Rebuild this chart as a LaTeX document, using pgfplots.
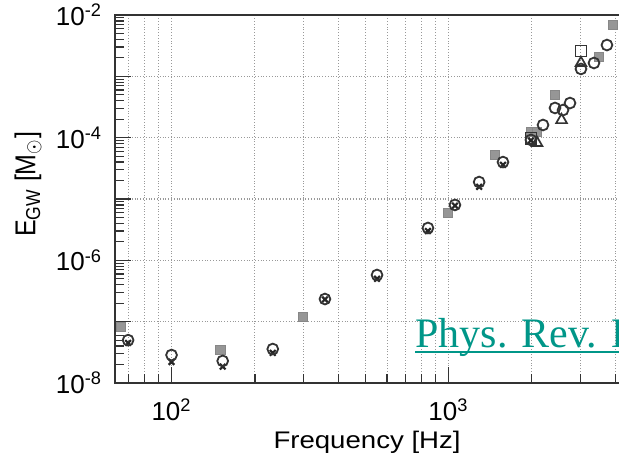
\documentclass[border=0pt]{standalone}
\usepackage{pgfplots}
\pgfplotsset{compat=1.18}
\usepackage{graphicx}
\usepackage{fontspec}
\setmainfont{Liberation Sans}
\newfontfamily\serifprl{Liberation Serif}
\definecolor{prlteal}{RGB}{0,150,136}
\definecolor{sqgray}{RGB}{150,150,150}
\begin{document}
\begin{tikzpicture}
\useasboundingbox (-57.5pt,-38pt) rectangle (252pt,191.5pt);
\clip (-57.5pt,-38pt) rectangle (252pt,191.5pt);
\begin{axis}[
  scale only axis,
  width=257.2pt, height=184pt,
  xmode=log, ymode=log,
  xmin=62.5, xmax=4500,
  ymin=1e-8, ymax=1e-2,
  xtick={100,1000},
  xticklabels={10\textsuperscript{2},10\textsuperscript{3}},
  minor xtick={70,80,90,200,300,400,500,600,700,800,900,2000,3000,4000},
  ytick={1e-8,1e-7,1e-6,1e-5,1e-4,1e-3,1e-2},
  yticklabels={10\textsuperscript{-8},,10\textsuperscript{-6},,10\textsuperscript{-4},,10\textsuperscript{-2}},
  minor ytick={2e-8,3e-8,4e-8,5e-8,6e-8,7e-8,8e-8,9e-8,
               2e-7,3e-7,4e-7,5e-7,6e-7,7e-7,8e-7,9e-7,
               2e-6,3e-6,4e-6,5e-6,6e-6,7e-6,8e-6,9e-6,
               2e-5,3e-5,4e-5,5e-5,6e-5,7e-5,8e-5,9e-5,
               2e-4,3e-4,4e-4,5e-4,6e-4,7e-4,8e-4,9e-4,
               2e-3,3e-3,4e-3,5e-3,6e-3,7e-3,8e-3,9e-3},
  xmajorgrids=true, xminorgrids=true, ymajorgrids=true, yminorgrids=false,
  major grid style={densely dotted, gray!80, line width=0.55pt},
  minor grid style={densely dotted, gray!80, line width=0.55pt},
  tick pos=left, tick align=inside,
  major tick length=8pt, minor tick length=4.5pt,
  tick style={black!80, line width=0.6pt},
  axis line style={black!80, line width=1.2pt},
  ticklabel style={font=\fontsize{13}{15}\selectfont},
  yticklabel style={xshift=-3pt},
  xticklabel style={yshift=-4.5pt},
  xlabel={\scalebox{1.15}[1]{Frequency [Hz]}},
  ylabel={\scalebox{1}[1.15]{E\textsubscript{GW} [M\textsubscript{$\odot$}]}},
  xlabel style={font=\fontsize{12}{14}\selectfont, at={(axis description cs:0.49,-0.16)}, anchor=center},
  ylabel style={font=\fontsize{12.5}{15}\selectfont, at={(axis description cs:-0.169,0.54)}, anchor=center},
  clip marker paths=true,
]
% gray filled squares
\addplot[only marks, mark=square*, mark size=2.3pt, mark options={fill=sqgray, draw=sqgray!90!black, line width=0.4pt}]
 coordinates {(65.5,8.2e-8) (150,3.46e-8) (298,1.19e-7) (996,5.9e-6) (1472,5.2e-5)
   (1985,1.24e-4) (2087,1.24e-4) (2424,4.96e-4) (3494,2.07e-3) (3925,6.87e-3)};
% dark crosses
\addplot[only marks, mark=x, mark size=2pt, mark options={draw=black!85, line width=1.1pt}]
 coordinates {(69.7,4.5e-8) (100,2.2e-8) (153,1.85e-8) (232,3.1e-8) (358,2.3e-7)
   (552,5.0e-7) (843,3.0e-6) (1055,7.8e-6) (1290,1.58e-5) (1573,3.6e-5) (1985,9.0e-5)};
% open squares
\addplot[only marks, mark=square, mark size=2.8pt, mark options={draw=black!80, line width=0.85pt}]
 coordinates {(1985,9.8e-5) (3008,2.59e-3)};
% open triangles
\addplot[only marks, mark=triangle, mark size=3.1pt, mark options={draw=black!80, line width=0.85pt}]
 coordinates {(2087,8.2e-5) (2560,1.94e-4) (3008,1.65e-3)};
% open circles
\addplot[only marks, mark=o, mark size=2.7pt, mark options={draw=black!80, line width=0.9pt}]
 coordinates {(69.7,5.0e-8) (100,2.86e-8) (153,2.29e-8) (232,3.58e-8) (358,2.34e-7)
   (552,5.77e-7) (843,3.37e-6) (1055,8.0e-6) (1290,1.89e-5) (1573,4.0e-5) (1985,9.2e-5)
   (2194,1.61e-4) (2424,3.05e-4) (2591,2.82e-4) (2746,3.67e-4) (3008,1.32e-3)
   (3352,1.65e-3) (3734,3.24e-3)};
\end{axis}
\node[anchor=base west, inner sep=0pt, text=prlteal, font=\serifprl\fontsize{21}{25}\selectfont] at (150pt,17.5pt) {Phys. Rev. Lett.};
\draw[prlteal, line width=1.2pt] (150pt,15.5pt) -- (260pt,15.5pt);
\end{tikzpicture}
\end{document}
